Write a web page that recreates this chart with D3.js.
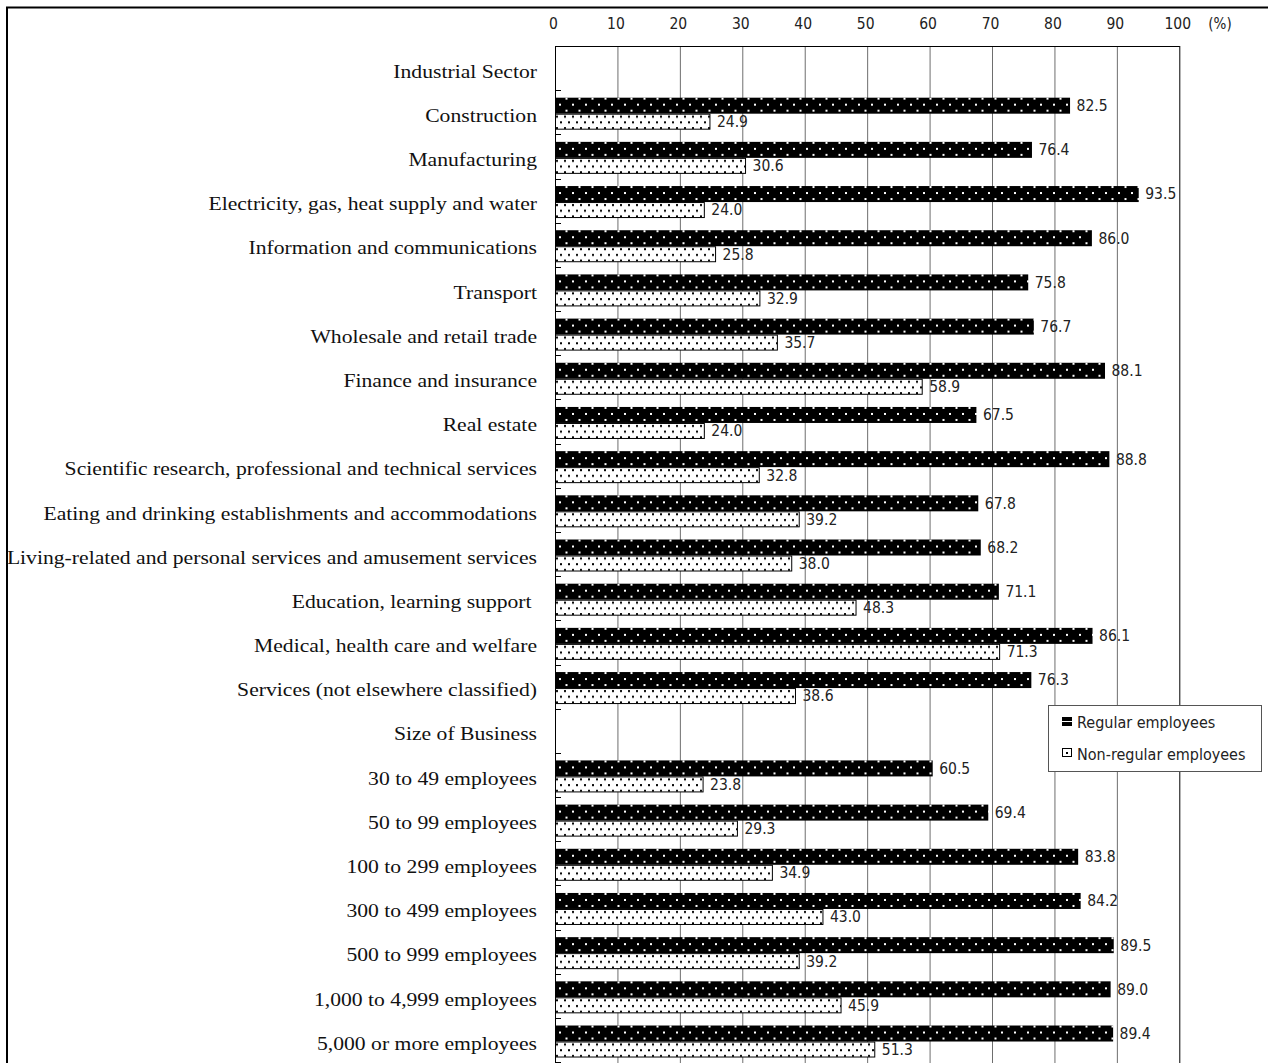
<!DOCTYPE html>
<html>
<head>
<meta charset="utf-8">
<script src="https://cdn.jsdelivr.net/npm/d3@7"></script>
<style>
  html, body { margin: 0; padding: 0; background: #fff; }
  svg { display: block; }
</style>
</head>
<body>
<svg id="chart" width="1268" height="1063"></svg>
<script>
// Row labels, top to bottom (group headers have no bars)
const categories = [
  "Industrial Sector",
  "Construction",
  "Manufacturing",
  "Electricity, gas, heat supply and water",
  "Information and communications",
  "Transport",
  "Wholesale and retail trade",
  "Finance and insurance",
  "Real estate",
  "Scientific research, professional and technical services",
  "Eating and drinking establishments and accommodations",
  "Living-related and personal services and amusement services",
  "Education, learning support ",
  "Medical, health care and welfare",
  "Services (not elsewhere classified)",
  "Size of Business",
  "30 to 49 employees",
  "50 to 99 employees",
  "100 to 299 employees",
  "300 to 499 employees",
  "500 to 999 employees",
  "1,000 to 4,999 employees",
  "5,000 or more employees"
];

// Percent values per row (null = header row)
const regular = [
  null, 82.5, 76.4, 93.5, 86.0, 75.8, 76.7, 88.1, 67.5, 88.8, 67.8, 68.2, 71.1, 86.1, 76.3,
  null, 60.5, 69.4, 83.8, 84.2, 89.5, 89.0, 89.4
];
const nonRegular = [
  null, 24.9, 30.6, 24.0, 25.8, 32.9, 35.7, 58.9, 24.0, 32.8, 39.2, 38.0, 48.3, 71.3, 38.6,
  null, 23.8, 29.3, 34.9, 43.0, 39.2, 45.9, 51.3
];

const seriesNames = ["Regular employees", "Non-regular employees"];
const tickValues = [0, 10, 20, 30, 40, 50, 60, 70, 80, 90, 100];
const unitLabel = "(%)";

const svg = d3.select("#chart");
const labelFont = "'Liberation Serif', 'Times New Roman', serif";
const numFont = "'DejaVu Sans Condensed', 'Liberation Sans Narrow', 'Liberation Sans', sans-serif";

// Outer frame
svg.append("rect")
  .attr("x", 7).attr("y", 7.5)
  .attr("width", 1300).attr("height", 1100)
  .attr("fill", "none").attr("stroke", "#000").attr("stroke-width", 2);

const x = d3.scaleLinear().domain([0, 100]).range([555, 1179.3]);
const y = d3.scaleBand().domain(categories).range([46, 1062.2]).padding(0);
const bw = y.bandwidth();

// Fill patterns (local to each bar, so every bar starts at the same phase)
const defs = svg.append("defs");
const pReg = defs.append("pattern").attr("id", "pReg")
  .attr("patternUnits", "userSpaceOnUse").attr("width", 13).attr("height", 12);
pReg.append("rect").attr("width", 13).attr("height", 12).attr("fill", "#000");
pReg.append("rect").attr("x", 4).attr("y", 6).attr("width", 2).attr("height", 2).attr("fill", "#fff");
pReg.append("rect").attr("x", 10.5).attr("y", 0).attr("width", 2).attr("height", 2).attr("fill", "#fff");

const pNon = defs.append("pattern").attr("id", "pNon")
  .attr("patternUnits", "userSpaceOnUse").attr("width", 8).attr("height", 11.4);
pNon.append("rect").attr("width", 8).attr("height", 11.4).attr("fill", "#fff");
pNon.append("rect").attr("x", 1).attr("y", 2).attr("width", 2).attr("height", 2).attr("fill", "#000");
pNon.append("rect").attr("x", 5).attr("y", 7.7).attr("width", 2).attr("height", 2).attr("fill", "#000");

// Vertical gridlines
svg.append("g").selectAll("line").data(tickValues.slice(1, -1)).join("line")
  .attr("x1", d => x(d) + 0.5).attr("x2", d => x(d) + 0.5)
  .attr("y1", 46).attr("y2", 1063)
  .attr("stroke", "#6e6e6e").attr("stroke-width", 1);

// Plot frame: top and right (100%)
svg.append("line").attr("x1", 555).attr("x2", x(100) + 0.5).attr("y1", 46.5).attr("y2", 46.5)
  .attr("stroke", "#000");
svg.append("line").attr("x1", x(100) + 0.5).attr("x2", x(100) + 0.5).attr("y1", 46).attr("y2", 1063)
  .attr("stroke", "#000");

// Top value axis labels
const xAxis = d3.axisTop(x).tickValues(tickValues).tickSize(0).tickPadding(0);
const gx = svg.append("g").attr("transform", "translate(-2,28.5)").call(xAxis);
gx.select(".domain").remove();
gx.selectAll("text")
  .attr("font-family", numFont).attr("font-size", 15.5).attr("fill", "#222");
svg.append("text").attr("x", 1220).attr("y", 28.5).attr("text-anchor", "middle")
  .attr("font-family", numFont).attr("font-size", 15).attr("fill", "#222").text(unitLabel);

const rows = categories.map((c, i) => ({ c, r: regular[i], n: nonRegular[i] }));
const barH = 16;
const offReg = 7.5, offNon = 23.5;

// Bars
svg.append("g").selectAll("g").data(rows.filter(d => d.r != null)).join("g")
  .attr("transform", d => `translate(${x(0)},${y(d.c) + offReg})`)
  .append("rect")
  .attr("width", d => x(d.r) - x(0)).attr("height", barH)
  .attr("fill", "url(#pReg)");
svg.append("g").selectAll("g").data(rows.filter(d => d.n != null)).join("g")
  .attr("transform", d => `translate(${x(0)},${y(d.c) + offNon})`)
  .append("rect")
  .attr("x", 0.5).attr("y", 0.5)
  .attr("width", d => x(d.n) - x(0) - 1).attr("height", barH - 1)
  .attr("fill", "url(#pNon)").attr("stroke", "#000").attr("stroke-width", 1);

// Value labels
const lab = svg.append("g").attr("font-family", numFont).attr("font-size", 15.5).attr("fill", "#222");
lab.selectAll("text.r").data(rows.filter(d => d.r != null)).join("text")
  .attr("class", "r")
  .attr("x", d => x(d.r) + 6.5).attr("y", d => y(d.c) + offReg + barH / 2)
  .attr("dy", "0.35em").text(d => d.r.toFixed(1));
lab.selectAll("text.n").data(rows.filter(d => d.n != null)).join("text")
  .attr("class", "n")
  .attr("x", d => x(d.n) + 6.5).attr("y", d => y(d.c) + offNon + barH / 2)
  .attr("dy", "0.35em").text(d => d.n.toFixed(1));

// Category axis with inward band ticks
svg.append("line").attr("x1", 555.5).attr("x2", 555.5).attr("y1", 46).attr("y2", 1063)
  .attr("stroke", "#000");
const bounds = categories.map(c => y(c)).slice(1).concat([y.range()[1]]);
svg.append("g").selectAll("line").data(bounds).join("line")
  .attr("x1", 555).attr("x2", 561).attr("y1", d => Math.round(d) + 0.5).attr("y2", d => Math.round(d) + 0.5)
  .attr("stroke", "#000");

svg.append("g").selectAll("text").data(categories).join("text")
  .attr("transform", d => `translate(537,${y(d) + bw / 2 + 3}) scale(1.14,1)`)
  .attr("text-anchor", "end").attr("dy", "0.35em")
  .attr("font-family", labelFont).attr("font-size", 19).attr("fill", "#111")
  .style("white-space", "pre")
  .text(d => d);

// Legend
const lg = svg.append("g");
lg.append("rect").attr("x", 1048.5).attr("y", 705.5).attr("width", 213).attr("height", 66)
  .attr("fill", "#fff").attr("stroke", "#555");
lg.append("rect").attr("x", 1062).attr("y", 717).attr("width", 10).attr("height", 9).attr("fill", "#000");
lg.append("rect").attr("x", 1062).attr("y", 721).attr("width", 10).attr("height", 1).attr("fill", "#fff");
lg.append("rect").attr("x", 1062.5).attr("y", 748.5).attr("width", 9).attr("height", 8)
  .attr("fill", "#fff").attr("stroke", "#000");
lg.append("rect").attr("x", 1066).attr("y", 752).attr("width", 2).attr("height", 2).attr("fill", "#000");
lg.selectAll("text").data(seriesNames).join("text")
  .attr("x", 1077).attr("y", (d, i) => 722 + i * 32).attr("dy", "0.35em")
  .attr("font-family", numFont).attr("font-size", 16).attr("fill", "#222")
  .text(d => d);
</script>
</body>
</html>
